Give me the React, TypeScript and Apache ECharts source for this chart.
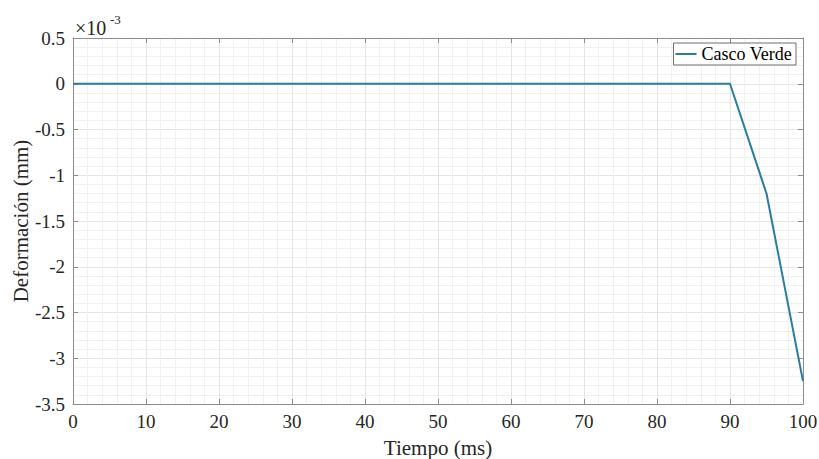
import React, { useEffect, useRef } from "react";
import * as echarts from "echarts";

const tiempo = [0, 10, 20, 30, 40, 50, 60, 70, 80, 90, 95, 100];
// deformation in units of 1e-3 mm
const deformacion = [0, 0, 0, 0, 0, 0, 0, 0, 0, 0, -1.2, -3.25];
const seriesName = "Casco Verde";

const FONT = "'Liberation Serif', 'Times New Roman', serif";

export default function App() {
  const ref = useRef<HTMLDivElement>(null);
  useEffect(() => {
    document.body.style.margin = "0";
    const chart = echarts.init(ref.current!, null, { renderer: "svg" });
    const axisColor = "#8c8c8c";
    const labelColor = "#262626";
    const baseX = {
      type: "value",
      min: 0,
      max: 100,
      interval: 10,
      axisLine: { show: true, onZero: false, lineStyle: { color: axisColor, width: 1 } },
      axisTick: { show: true, inside: true, length: 5, lineStyle: { color: axisColor } },
      minorTick: { show: false, splitNumber: 5 },
      splitLine: { show: false },
      minorSplitLine: { show: false },
    };
    const baseY = {
      type: "value",
      min: -3.5,
      max: 0.5,
      interval: 0.5,
      axisLine: { show: true, onZero: false, lineStyle: { color: axisColor, width: 1 } },
      axisTick: { show: true, inside: true, length: 5, lineStyle: { color: axisColor } },
      minorTick: { show: false, splitNumber: 5 },
      splitLine: { show: false },
      minorSplitLine: { show: false },
    };
    chart.setOption({
      animation: false,
      backgroundColor: "#ffffff",
      grid: { left: 73, top: 38, right: 16, bottom: 55, containLabel: false, outerBoundsMode: "none" },
      legend: {
        show: true,
        data: [seriesName],
        right: 23,
        top: 43,
        orient: "vertical",
        backgroundColor: "#ffffff",
        borderColor: "#6e6e6e",
        borderWidth: 1,
        borderRadius: 0,
        padding: [2, 4, 2, 2],
        itemWidth: 21,
        itemHeight: 18,
        itemGap: 4,
        icon: "path://M0,8L21,8L21,10L0,10Z",
        textStyle: { fontFamily: FONT, fontSize: 18, color: "#000" },
      },
      xAxis: [
        {
          ...baseX,
          position: "bottom",
          name: "Tiempo (ms)",
          nameLocation: "middle",
          nameGap: 33,
          nameMoveOverlap: false,
          nameTextStyle: { fontFamily: FONT, fontSize: 21, color: labelColor },
          axisLabel: { show: true, fontFamily: FONT, fontSize: 19, color: labelColor, margin: 8 },
          splitLine: { show: true, lineStyle: { color: "#e4e4e4", width: 1 } },
          minorTick: { show: false, splitNumber: 5 },
          minorSplitLine: { show: true, lineStyle: { color: "#f1f1f1", width: 1 } },
        },
        { ...baseX, position: "top", axisLabel: { show: false } },
      ],
      yAxis: [
        {
          ...baseY,
          position: "left",
          name: "Deformación (mm)",
          nameLocation: "middle",
          nameGap: 42,
          nameMoveOverlap: false,
          nameTextStyle: { fontFamily: FONT, fontSize: 21, color: labelColor },
          axisLabel: {
            show: true,
            fontFamily: FONT,
            fontSize: 19,
            color: labelColor,
            margin: 8,
            formatter: (v: number) => {
              const r = Math.round(v * 10) / 10;
              return r === 0 ? "0" : String(r);
            },
          },
          splitLine: { show: true, lineStyle: { color: "#e4e4e4", width: 1 } },
          minorTick: { show: false, splitNumber: 5 },
          minorSplitLine: { show: true, lineStyle: { color: "#f1f1f1", width: 1 } },
        },
        { ...baseY, position: "right", axisLabel: { show: false } },
      ],
      graphic: [
        {
          type: "text",
          x: 75,
          y: 28,
          style: {
            text: "×10",
            fontFamily: FONT,
            fontSize: 20,
            fill: labelColor,
            verticalAlign: "middle",
            align: "left",
          },
        },
        {
          type: "text",
          x: 110,
          y: 19,
          style: {
            text: "-3",
            fontFamily: FONT,
            fontSize: 13,
            fill: labelColor,
            verticalAlign: "middle",
            align: "left",
          },
        },
      ],
      series: [
        {
          name: seriesName,
          type: "line",
          data: tiempo.map((t, i) => [t, deformacion[i]]),
          showSymbol: false,
          symbol: "none",
          lineStyle: { color: "#2a7d9f", width: 2 },
          itemStyle: { color: "#2a7d9f" },
          clip: false,
        },
      ],
    });
    return () => chart.dispose();
  }, []);
  return <div ref={ref} style={{ width: 819, height: 459 }} />;
}
